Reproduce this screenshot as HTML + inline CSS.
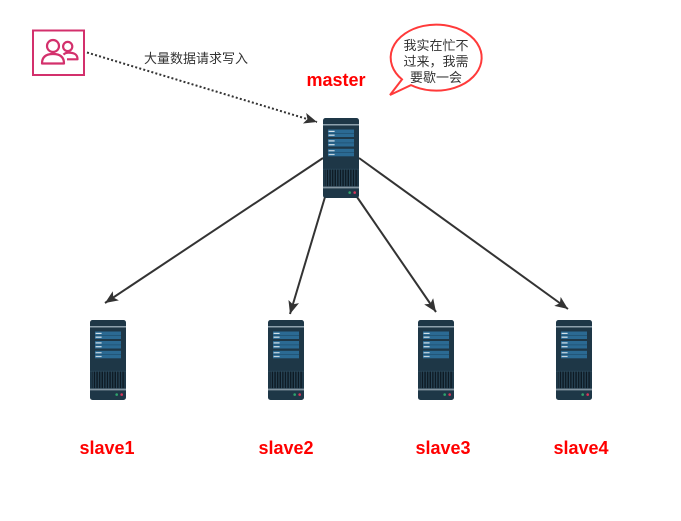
<!DOCTYPE html>
<html>
<head>
<meta charset="utf-8">
<style>
  html, body { margin:0; padding:0; background:#ffffff; }
  body { width:681px; height:521px; overflow:hidden; }
  svg { display:block; }
  .lbl { font-family: "Liberation Sans", "Noto Sans CJK SC", sans-serif; }
</style>
</head>
<body>
<svg width="681" height="521" viewBox="0 0 681 521" xmlns="http://www.w3.org/2000/svg">
  <defs>
    <pattern id="vent" x="0" y="0" width="2.6" height="20" patternUnits="userSpaceOnUse">
      <rect x="0" y="0" width="2.6" height="20" fill="#0d1a24"/>
      <rect x="0" y="0" width="1.1" height="20" fill="#2a4759"/>
    </pattern>
    <g id="srv">
      <rect x="0" y="0" width="36" height="80" rx="2.5" fill="#1e3747"/>
      <rect x="0" y="6" width="36" height="1.5" fill="#8ea1ad"/>
      <!-- group 1 -->
      <rect x="5" y="11.5" width="26" height="7.5" fill="#2b6a93"/>
      <rect x="5" y="15.1" width="26" height="0.6" fill="#1d4a68"/>
      <rect x="5.6" y="12.8" width="6" height="1.2" fill="#d3e0e8"/>
      <rect x="5.6" y="16.6" width="6" height="1.2" fill="#d3e0e8"/>
      <!-- group 2 -->
      <rect x="5" y="21" width="26" height="7.5" fill="#2b6a93"/>
      <rect x="5" y="24.6" width="26" height="0.6" fill="#1d4a68"/>
      <rect x="5.6" y="22.3" width="6" height="1.2" fill="#d3e0e8"/>
      <rect x="5.6" y="26.1" width="6" height="1.2" fill="#d3e0e8"/>
      <!-- group 3 -->
      <rect x="5" y="30.8" width="26" height="7.5" fill="#2b6a93"/>
      <rect x="5" y="34.4" width="26" height="0.6" fill="#1d4a68"/>
      <rect x="5.6" y="32.1" width="6" height="1.2" fill="#c4d3dd"/>
      <rect x="5.6" y="35.9" width="6" height="1.2" fill="#c4d3dd"/>
      <!-- vent -->
      <rect x="0" y="50.8" width="36" height="0.8" fill="#2b4a5c"/>
      <rect x="2" y="51.6" width="32" height="16.6" fill="url(#vent)"/>
      <rect x="0" y="68.6" width="36" height="1.8" fill="#8394a0"/>
      <circle cx="26.7" cy="74.6" r="1.3" fill="#2fa36b"/>
      <circle cx="31.7" cy="74.6" r="1.3" fill="#d8365a"/>
    </g>
    <marker id="arr" markerUnits="userSpaceOnUse" markerWidth="16" markerHeight="12" refX="13" refY="5.5" orient="auto">
      <path d="M0,0 L13,5.5 L0,11 L3,5.5 Z" fill="#333333"/>
    </marker>
  </defs>

  <!-- user icon -->
  <rect x="33" y="30.5" width="51" height="44.5" fill="none" stroke="#d3306c" stroke-width="2"/>
  <circle cx="53" cy="46" r="6" fill="none" stroke="#d3306c" stroke-width="2.2"/>
  <path d="M42,63.5 C42,57 46,54 53,54 C60,54 64,57 64,63.5 Z" fill="none" stroke="#d3306c" stroke-width="2.2" stroke-linejoin="round"/>
  <circle cx="67.7" cy="46.5" r="4.6" fill="none" stroke="#d3306c" stroke-width="2.2"/>
  <path d="M63.5,54.6 C65,53 66.5,52.6 68.5,52.6 C74.5,52.6 77.5,54.5 77.5,59.3 L67,59.3" fill="none" stroke="#d3306c" stroke-width="2.2" stroke-linejoin="round"/>

  <!-- dotted request arrow -->
  <line x1="87" y1="52.5" x2="317" y2="122" stroke="#333333" stroke-width="2" stroke-dasharray="2 2.2" marker-end="url(#arr)"/>
  <text x="196" y="63" class="lbl" font-size="13" fill="#333333" text-anchor="middle">大量数据请求写入</text>

  <!-- speech bubble -->
  <path d="M402,79.4 A45.5,33 0 1,1 411,85.1 L390,95 Z" fill="#ffffff" stroke="#ff3a3a" stroke-width="2" stroke-linejoin="miter"/>
  <text x="436" y="50" class="lbl" font-size="13" fill="#333333" text-anchor="middle">我实在忙不</text>
  <text x="436" y="66" class="lbl" font-size="13" fill="#333333" text-anchor="middle">过来，我需</text>
  <text x="436" y="82" class="lbl" font-size="13" fill="#333333" text-anchor="middle">要歇一会</text>

  <!-- master -->
  <text x="336" y="86" class="lbl" font-size="18" font-weight="bold" fill="#ff0000" text-anchor="middle">master</text>

  <!-- connectors -->
  <line x1="323" y1="158" x2="105" y2="303" stroke="#333333" stroke-width="2" marker-end="url(#arr)"/>
  <line x1="325" y1="197" x2="290" y2="314" stroke="#333333" stroke-width="2" marker-end="url(#arr)"/>
  <line x1="357" y1="197" x2="436" y2="312" stroke="#333333" stroke-width="2" marker-end="url(#arr)"/>
  <line x1="359" y1="158" x2="568" y2="309" stroke="#333333" stroke-width="2" marker-end="url(#arr)"/>

  <!-- servers -->
  <use href="#srv" x="323" y="118"/>
  <use href="#srv" x="90" y="320"/>
  <use href="#srv" x="268" y="320"/>
  <use href="#srv" x="418" y="320"/>
  <use href="#srv" x="556" y="320"/>

  <!-- slave labels -->
  <text x="107" y="454" class="lbl" font-size="18" font-weight="bold" fill="#ff0000" text-anchor="middle">slave1</text>
  <text x="286" y="454" class="lbl" font-size="18" font-weight="bold" fill="#ff0000" text-anchor="middle">slave2</text>
  <text x="443" y="454" class="lbl" font-size="18" font-weight="bold" fill="#ff0000" text-anchor="middle">slave3</text>
  <text x="581" y="454" class="lbl" font-size="18" font-weight="bold" fill="#ff0000" text-anchor="middle">slave4</text>
</svg>
</body>
</html>
